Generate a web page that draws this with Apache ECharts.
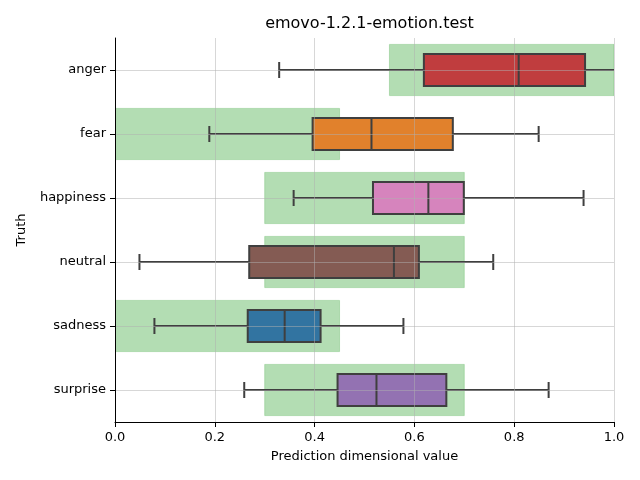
<!DOCTYPE html>
<html><head><meta charset="utf-8">
<script src="https://cdn.jsdelivr.net/npm/echarts@6/dist/echarts.min.js"></script>
<style>html,body{margin:0;padding:0;background:#fff}#c{width:640px;height:480px}</style>
</head><body><div id="c"></div>
<script>
const categories = ['anger','fear','happiness','neutral','sadness','surprise'];
const whiskerLow  = [0.329, 0.189, 0.358, 0.049, 0.079, 0.259];
const q1s         = [0.619, 0.396, 0.517, 0.269, 0.266, 0.446];
const medians     = [0.809, 0.514, 0.628, 0.559, 0.340, 0.524];
const q3s         = [0.942, 0.677, 0.699, 0.609, 0.412, 0.664];
const whiskerHigh = [1.05, 0.849, 0.939, 0.758, 0.578, 0.869];
const rangeLow    = [0.55, 0.0, 0.3, 0.3, 0.0, 0.3];
const rangeHigh   = [1.0, 0.45, 0.7, 0.7, 0.45, 0.7];
const boxColors   = ['#c03d3e','#e1812c','#d684bd','#845b53','#3274a1','#9372b2'];
const xTicks = [0, 0.2, 0.4, 0.6, 0.8, 1.0];

const edge = '#3f3f3f';
const font = 'DejaVu Sans';

const rangeData = categories.map((c,i)=>[i, rangeLow[i], rangeHigh[i]]);
const boxData = categories.map((c,i)=>[i, whiskerLow[i], q1s[i], medians[i], q3s[i], whiskerHigh[i]]);

const chart = echarts.init(document.getElementById('c'), null, {renderer:'canvas'});
chart.setOption({
  animation:false,
  title:{text:'emovo-1.2.1-emotion.test', left:364.5, top:11, textAlign:'center',
    textStyle:{fontFamily:font, fontSize:16, fontWeight:'normal', color:'#000'}},
  grid:{left:115, right:26, top:38, bottom:58},
  xAxis:{type:'value', min:0, max:1, interval:0.2, z:5,
    name:'Prediction dimensional value', nameLocation:'middle', nameGap:28,
    nameTextStyle:{fontFamily:font, fontSize:13, color:'#000'},
    axisLine:{show:true, lineStyle:{color:'#000', width:1}},
    axisTick:{show:true, length:5, lineStyle:{color:'#000'}},
    axisLabel:{fontFamily:font, fontSize:13, color:'#000', margin:9, formatter:v=>v.toFixed(1)},
    splitLine:{show:true, lineStyle:{color:'rgba(176,176,176,0.5)', width:1}}
  },
  yAxis:{type:'category', data:categories, inverse:true, z:5,
    name:'Truth', nameLocation:'middle', nameGap:87, nameRotate:90,
    nameTextStyle:{fontFamily:font, fontSize:13, color:'#000'},
    axisLine:{show:true, lineStyle:{color:'#000', width:1}},
    axisTick:{show:true, length:5, alignWithLabel:true, lineStyle:{color:'#000'}},
    axisLabel:{fontFamily:font, fontSize:13, color:'#000', margin:9},
    splitLine:{show:false}
  },
  series:[
    {type:'custom', z:1, clip:true, data:rangeData,
      encode:{y:0, x:[1,2]},
      renderItem:(params, api)=>{
        const ci = api.value(0);
        const a = api.coord([api.value(1), ci]);
        const b = api.coord([api.value(2), ci]);
        const bw = api.size([0,1])[1]*0.8;
        return {type:'rect', shape:{x:a[0], y:a[1]-bw/2, width:b[0]-a[0], height:bw},
          style:{fill:'rgba(44,160,44,0.36)', stroke:'rgba(44,160,44,0.25)', lineWidth:1}};
      }
    },
    {type:'custom', z:2, clip:true, data:boxData,
      encode:{y:0, x:[1,2,3,4,5]},
      renderItem:(params, api)=>{
        const ci = api.value(0);
        const idx = params.dataIndex;
        const bh = api.size([0,1])[1];
        const hb = bh*0.25, hc = bh*0.125;
        const p = k=>api.coord([api.value(k), ci]);
        const lo=p(1), q1=p(2), md=p(3), q3=p(4), hi=p(5);
        const y=lo[1];
        const ls={stroke:edge, lineWidth:2, fill:null};
        return {type:'group', children:[
          {type:'line', shape:{x1:lo[0],y1:y,x2:q1[0],y2:y}, style:ls},
          {type:'line', shape:{x1:q3[0],y1:y,x2:hi[0],y2:y}, style:ls},
          {type:'line', shape:{x1:lo[0],y1:y-hc,x2:lo[0],y2:y+hc}, style:ls},
          {type:'line', shape:{x1:hi[0],y1:y-hc,x2:hi[0],y2:y+hc}, style:ls},
          {type:'rect', shape:{x:q1[0], y:y-hb, width:q3[0]-q1[0], height:2*hb},
            style:{fill:boxColors[idx], stroke:edge, lineWidth:2}},
          {type:'line', shape:{x1:md[0],y1:y-hb,x2:md[0],y2:y+hb}, style:ls}
        ]};
      },
      markLine:{silent:true, symbol:['none','none'], z:4,
        label:{show:false},
        lineStyle:{color:'rgba(176,176,176,0.5)', width:1, type:'solid'},
        data:categories.map(c=>({yAxis:c}))
      }
    }
  ]
});
</script></body></html>
